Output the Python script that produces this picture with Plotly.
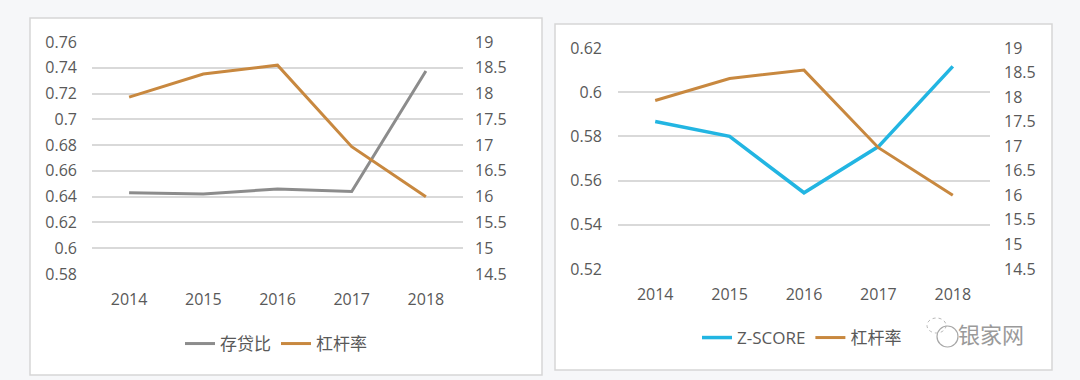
import plotly.graph_objects as go

years = ["2014", "2015", "2016", "2017", "2018"]
loan_deposit = [0.643, 0.642, 0.646, 0.644, 0.7375]
leverage = [17.93, 18.38, 18.55, 16.97, 16.0]
zscore = [0.5867, 0.580, 0.5545, 0.5754, 0.6117]

W, H = 1080, 380
GREY = "#8C8C8C"
ORANGE = "#C8883F"
CYAN = "#22B5E2"
TXT = "#595959"
FONT = "Open Sans, Noto Sans CJK SC, sans-serif"

def px_x(v):
    return v / W

def px_y(v):
    return 1 - v / H

fig = go.Figure()

fig.add_trace(go.Scatter(x=years, y=loan_deposit, name="存贷比", mode="lines",
                         line=dict(color=GREY, width=3), xaxis="x", yaxis="y", legend="legend"))
fig.add_trace(go.Scatter(x=years, y=leverage, name="杠杆率", mode="lines",
                         line=dict(color=ORANGE, width=3), xaxis="x", yaxis="y2", legend="legend"))
fig.add_trace(go.Scatter(x=years, y=zscore, name="Z-SCORE", mode="lines",
                         line=dict(color=CYAN, width=3.5), xaxis="x2", yaxis="y3", legend="legend2"))
fig.add_trace(go.Scatter(x=years, y=leverage, name="杠杆率", mode="lines",
                         line=dict(color=ORANGE, width=3), xaxis="x2", yaxis="y4", legend="legend2"))

tickfont = dict(family=FONT, size=16, color=TXT)
grid = "#D9D9D9"

xcommon = dict(type="category", range=[-0.5, 4.5], showgrid=False, zeroline=False, automargin=False,
               showline=False, ticks="", tickfont=tickfont, ticklabelstandoff=14, fixedrange=True)

fig.update_layout(
    width=W, height=H,
    margin=dict(l=0, r=0, t=0, b=0, autoexpand=False),
    paper_bgcolor="#F6F7F9",
    plot_bgcolor="rgba(0,0,0,0)",
    font=dict(family=FONT, color=TXT),
    xaxis=dict(domain=[px_x(92), px_x(463)], anchor="y", **xcommon),
    yaxis=dict(domain=[px_y(274), px_y(42)], anchor="x", range=[0.58, 0.76], tick0=0.58, dtick=0.02,
               showgrid=True, gridcolor=grid, gridwidth=1.5, zeroline=False, ticks="", automargin=False,
               tickfont=tickfont, ticklabelstandoff=14),
    yaxis2=dict(overlaying="y", anchor="x", side="right", range=[14.5, 19], tick0=14.5, dtick=0.5,
                showgrid=False, zeroline=False, ticks="", automargin=False,
                tickfont=tickfont, ticklabelstandoff=11),
    xaxis2=dict(domain=[px_x(618), px_x(990)], anchor="y3", **xcommon),
    yaxis3=dict(domain=[px_y(269), px_y(48)], anchor="x2", range=[0.52, 0.62], tick0=0.52, dtick=0.02,
                showgrid=True, gridcolor=grid, gridwidth=1.5, zeroline=False, ticks="", automargin=False,
                tickfont=tickfont, ticklabelstandoff=15),
    yaxis4=dict(overlaying="y3", anchor="x2", side="right", range=[14.5, 19], tick0=14.5, dtick=0.5,
                showgrid=False, zeroline=False, ticks="", automargin=False,
                tickfont=tickfont, ticklabelstandoff=13),
    legend=dict(orientation="h", x=px_x(276), y=px_y(344), xanchor="center", yanchor="middle",
                bgcolor="rgba(0,0,0,0)", font=dict(family=FONT, size=17, color=TXT),
                itemclick=False, itemdoubleclick=False, tracegroupgap=0),
    legend2=dict(orientation="h", x=px_x(802), y=px_y(338), xanchor="center", yanchor="middle",
                 bgcolor="rgba(0,0,0,0)", font=dict(family=FONT, size=17, color=TXT),
                 itemclick=False, itemdoubleclick=False),
    showlegend=True,
)

shapes = [
    dict(type="rect", xref="paper", yref="paper", x0=px_x(30), x1=px_x(542), y0=px_y(375), y1=px_y(18),
         fillcolor="white", line=dict(color="#D6D6D6", width=1.5), layer="below"),
    dict(type="rect", xref="paper", yref="paper", x0=px_x(555), x1=px_x(1052), y0=px_y(370), y1=px_y(24),
         fillcolor="white", line=dict(color="#D6D6D6", width=1.5), layer="below"),
    dict(type="circle", xref="paper", yref="paper", x0=px_x(937), x1=px_x(958), y0=px_y(347), y1=px_y(326),
         fillcolor="rgba(0,0,0,0)", line=dict(color="#A8A8A8", width=1.2), layer="above"),
    dict(type="circle", xref="paper", yref="paper", x0=px_x(927), x1=px_x(946), y0=px_y(333), y1=px_y(318),
         fillcolor="rgba(0,0,0,0)", line=dict(color="#B8B8B8", width=1, dash="dot"), layer="above"),
]
fig.update_layout(shapes=shapes)

fig.add_annotation(xref="paper", yref="paper", x=px_x(991), y=px_y(333), text="银家网",
                   showarrow=False, xanchor="center", yanchor="middle",
                   font=dict(family="Noto Sans CJK SC", size=22, color="#9A9A9A"))

fig.write_html("out.html", config={"displayModeBar": False},
               post_script="document.body.style.margin='0';document.body.style.overflow='hidden';")
